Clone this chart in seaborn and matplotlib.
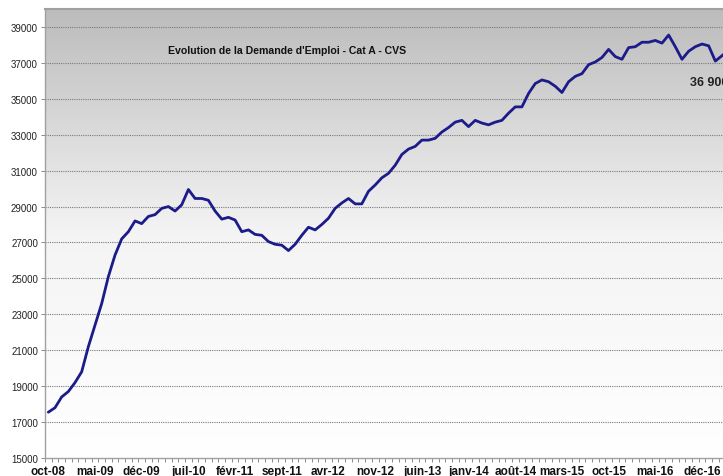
import matplotlib
matplotlib.use("Agg")
import matplotlib.pyplot as plt
import numpy as np
import pandas as pd
import seaborn as sb

# monthly values, oct-08 onwards
months_fr = ["janv", "févr", "mars", "avr", "mai", "juin",
             "juil", "août", "sept", "oct", "nov", "déc"]
demande = [17550, 17800, 18400, 18700, 19200, 19800, 21200, 22400, 23600, 25100,
           26300, 27200, 27600, 28200, 28050, 28450, 28550, 28900, 29000, 28750,
           29100, 29950, 29450, 29450, 29350, 28750, 28300, 28400, 28250, 27600,
           27700, 27450, 27400, 27050, 26900, 26850, 26550, 26900, 27400, 27850,
           27700, 28000, 28350, 28900, 29200, 29450, 29150, 29150, 29850, 30200,
           30600, 30850, 31300, 31900, 32200, 32350, 32700, 32700, 32800, 33150,
           33400, 33700, 33800, 33450, 33800, 33650, 33550, 33700, 33800, 34200,
           34550, 34550, 35300, 35850, 36050, 35950, 35700, 35350, 35950, 36250,
           36400, 36900, 37050, 37300, 37750, 37350, 37200, 37850, 37900, 38150,
           38150, 38250, 38100, 38550, 37900, 37200, 37650, 37900, 38050, 37950,
           37100, 37400, 37700]
y_ticks = list(range(15000, 40000, 2000))
title = "Evolution de la Demande d'Emploi - Cat A - CVS"
last_label = "36 900"

# month labels starting oct-08
labels = []
for i in range(len(demande)):
    m = (9 + i) % 12
    yr = 8 + (9 + i) // 12
    labels.append("%s-%02d" % (months_fr[m], yr))

df = pd.DataFrame({"idx": np.arange(len(demande)), "val": demande})

sb.set_style("white")
plt.rcParams["font.family"] = ["Liberation Sans", "DejaVu Sans"]

fig = plt.figure(figsize=(7.23, 4.77), dpi=100)
n_cat = 105
ax = fig.add_axes([45 / 723, 18 / 477, n_cat * 6.67 / 723, 449 / 477])

# gradient background, grey at the top fading to white
grad = np.linspace(0, 1, 256).reshape(-1, 1)
ax.imshow(grad, extent=[0, 1, 0, 1], transform=ax.transAxes, aspect="auto",
          cmap=matplotlib.colors.LinearSegmentedColormap.from_list(
              "bg", ["#ffffff", "#f4f4f4", "#bcbcbc"]),
          origin="lower", zorder=0)

for yv in y_ticks[1:]:
    ax.axhline(yv, color="#7a7a7a", lw=0.8, ls=(0, (1, 1)), zorder=1)

sb.lineplot(data=df, x="idx", y="val", ax=ax, color="#1b1b8a", lw=2.0, zorder=3)

ax.set_xlim(-0.5, n_cat - 0.5)
ax.set_ylim(15000, 40000)
ax.set_yticks(y_ticks)
ax.set_yticklabels([str(v) for v in y_ticks], fontsize=7, color="#222222")
major = list(range(0, len(demande), 7))
ax.set_xticks(major)
ax.set_xticklabels([labels[i] for i in major], fontsize=8.5, fontweight="bold",
                   color="#111111")
ax.set_xticks(np.arange(-0.5, n_cat, 1), minor=True)
ax.tick_params(axis="x", which="major", length=0, pad=5)
ax.tick_params(axis="x", which="minor", length=3, width=0.6, color="#777777",
               direction="out", bottom=True)
ax.tick_params(axis="y", length=3, width=0.6, color="#777777", direction="out",
               left=True, pad=2)
ax.set_xlabel("")
ax.set_ylabel("")

for s in ["left", "bottom", "top"]:
    ax.spines[s].set_color("#a0a0a0")
    ax.spines[s].set_linewidth(1.0)
ax.spines["top"].set_linewidth(1.5)
ax.spines["right"].set_visible(False)

ax.text(18, 37700, title, fontsize=7.6, fontweight="bold", color="#111111",
        ha="left", va="center", zorder=4)
ax.text(96.2, 35950, last_label, fontsize=9, fontweight="bold", color="#222222",
        ha="left", va="center", zorder=4)

fig.savefig("out.png", dpi=100)
